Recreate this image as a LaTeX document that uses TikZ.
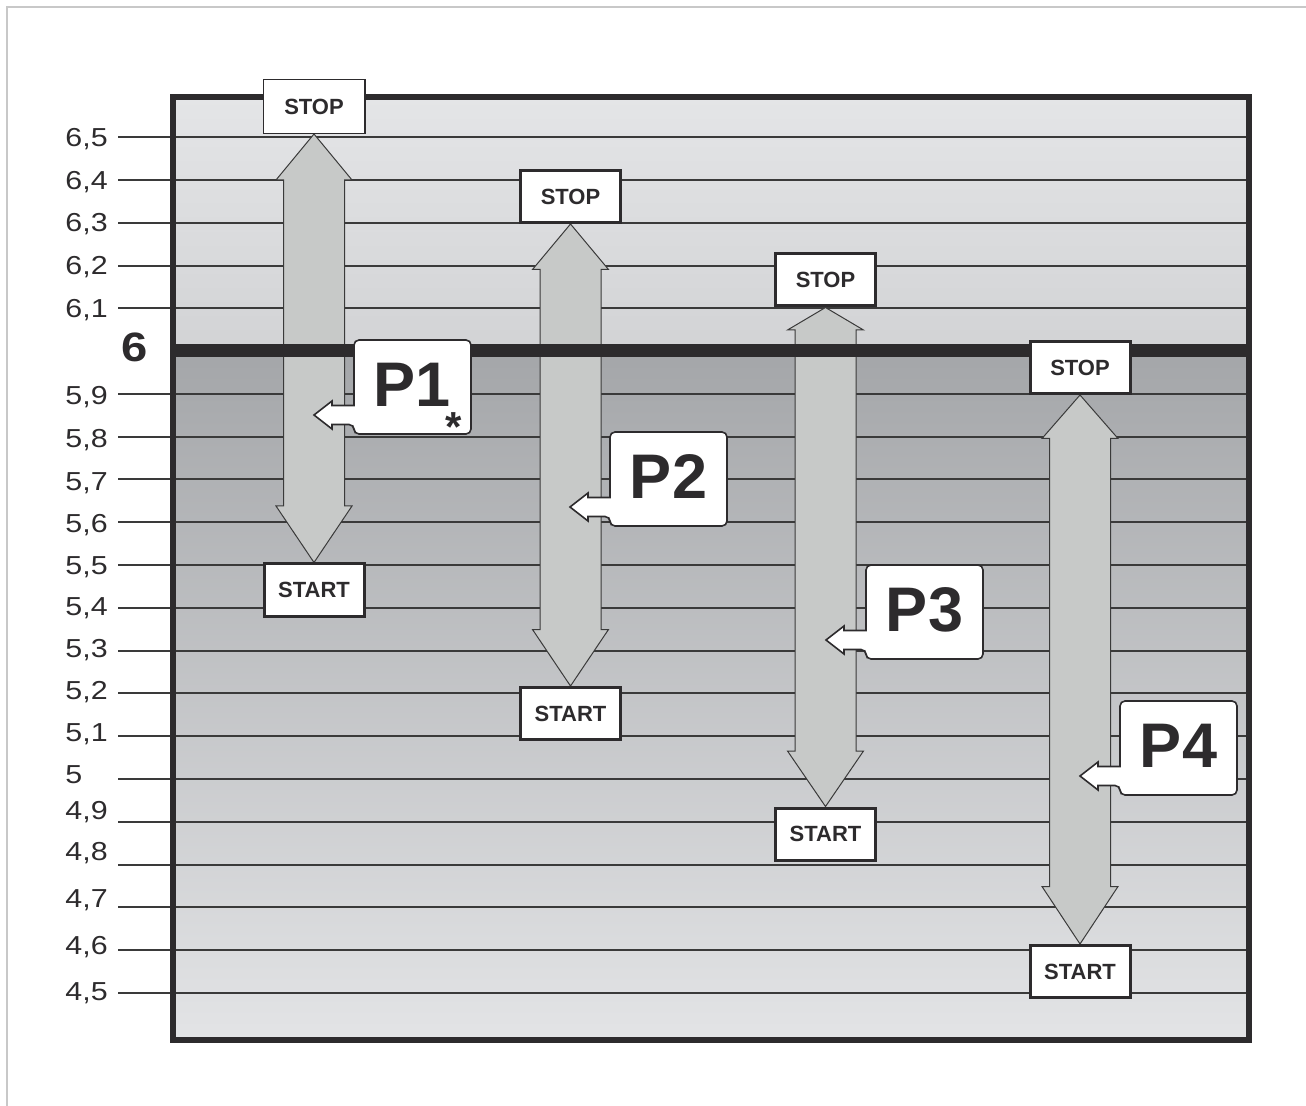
\documentclass[tikz,border=0pt]{standalone}
\usepackage{fontspec}
\setmainfont{Liberation Sans}
\usepackage{graphicx}
\usepackage{tikz}
\usetikzlibrary{calc}

\definecolor{inkdark}{HTML}{2D2B2D}
\definecolor{linegray}{HTML}{3A3A3A}
\definecolor{arrowgray}{HTML}{C7C9C8}
\definecolor{uptop}{HTML}{E4E5E7}
\definecolor{upbot}{HTML}{D2D3D5}
\definecolor{lowtop}{HTML}{A4A6A9}
\definecolor{lowbot}{HTML}{E3E4E6}
\definecolor{edgegray}{HTML}{C8C8C8}

\pgfdeclarelayer{back}
\pgfdeclarelayer{mid}
\pgfsetlayers{back,mid,main}

\tikzset{
  gridline/.style={line width=0.65pt, color=linegray},
  vlabel/.style={anchor=west, inner sep=0pt, text=inkdark, font=\fontsize{13}{14}\selectfont},
  stopbox/.style={draw=inkdark, fill=white, line width=1.5pt, minimum width=50pt, minimum height=26pt, inner sep=0pt, text=inkdark, font=\fontsize{11}{12}\selectfont\bfseries},
  arrowbody/.style={fill=arrowgray, draw=linegray, line width=0.5pt},
  callbox/.style={fill=white, draw=inkdark, line width=0.8pt},
  ptext/.style={inner sep=0pt, text=inkdark, font=\fontsize{31.5}{32}\selectfont\bfseries},
  startext/.style={anchor=north, inner sep=0pt, text=inkdark, font=\fontsize{21}{22}\selectfont\bfseries}
}

%% double block arrow between a STOP box and a START box
\newcommand{\bigarrow}[4]{%
  \draw[arrowbody] (#1.south) -- ++(38,#3) -- ++(-7.5,0)
    -- ($(#2.north)+(30.5,-#4)$) -- ++(7.5,0) -- (#2.north)
    -- ++(-38,-#4) -- ++(7.5,0) -- ($(#1.south)+(-30.5,#3)$)
    -- ++(-7.5,0) -- cycle;}

%% rounded label box with a small pointer on its left side
\newcommand{\callout}[1]{%
  \draw[callbox, shift={(#1)}] (-58.5,18.5) [rounded corners=2.5pt]
    -- (-58.5,-47) -- (58.5,-47) -- (58.5,47) -- (-58.5,47) -- (-58.5,37.5)
    [sharp corners] -- (-80.5,37.5) -- (-80.5,42) -- (-98.5,28)
    -- (-80.5,14) -- (-80.5,18.5) -- cycle;}

\begin{document}
\begin{tikzpicture}[x=0.5pt,y=-0.5pt]
    \useasboundingbox (0,0) rectangle (1306,1106);
    \begin{pgfonlayer}{back}
    %%outer edge
    \draw[edgegray, line width=1pt] (7,1106) -- (7,7) -- (1306,7);
    %%gray fields
    \shade[top color=uptop, bottom color=upbot] (173,97) rectangle (1249,351);
    \shade[top color=lowtop, bottom color=lowbot] (173,351) rectangle (1249,1040);
    %%scale
    \foreach \ly/\ty/\t [count=\i] in {137/139/{6,5}, 180/182/{6,4}, 223/224/{6,3},
        266/267/{6,2}, 308/310/{6,1}, 394/397/{5,9}, 437/440/{5,8}, 479/483/{5,7},
        522/525/{5,6}, 565/567/{5,5}, 608/608/{5,4}, 651/650/{5,3}, 693/692/{5,2},
        736/734/{5,1}, 779/775/{5}, 822/812/{4,9}, 865/853/{4,8}, 907/900/{4,7},
        950/947/{4,6}, 993/993/{4,5}}{
        \draw[gridline] (118,\ly) -- (1246,\ly);
        \node[vlabel] (lab\i) at (65,\ty) {\scalebox{1.17}[1]{\t}};
    }
    \node[anchor=east, inner sep=0pt, text=inkdark, font=\fontsize{20.5}{21}\selectfont\bfseries] (six) at (148,347) {\scalebox{1.15}[1]{6}};
    \end{pgfonlayer}
    %%STOP and START boxes
    \node[stopbox, line width=0.6pt, minimum width=50.9pt, minimum height=26.9pt] (stop1) at (314,106.5) {STOP};
    \node[stopbox] (start1) at (314,590) {START};
    \node[stopbox] (stop2) at (570.5,196.5) {STOP};
    \node[stopbox] (start2) at (570.5,713.5) {START};
    \node[stopbox] (stop3) at (825.5,280) {STOP};
    \node[stopbox] (start3) at (825.5,834) {START};
    \node[stopbox] (stop4) at (1080,367.5) {STOP};
    \node[stopbox] (start4) at (1080,971.5) {START};
    %%P labels
    \coordinate (c1) at (412.5,387);
    \coordinate (c2) at (668.5,479);
    \coordinate (c3) at (924.5,612);
    \coordinate (c4) at (1178.5,748);
    \callout{c1} \node[ptext] (p1) at ($(c1)+(0,-2)$) {P1};
    \callout{c2} \node[ptext] (p2) at ($(c2)+(0,-2)$) {P2};
    \callout{c3} \node[ptext] (p3) at ($(c3)+(0,-2)$) {P3};
    \callout{c4} \node[ptext] (p4) at ($(c4)+(0,-2)$) {P4};
    \node[startext] (star1) at (454,412) {*};
    \begin{pgfonlayer}{mid}
    %%arrows
    \bigarrow{stop1}{start1}{46}{56.5}
    \bigarrow{stop2}{start2}{45.5}{56.5}
    \bigarrow{stop3}{start3}{22.5}{55.5}
    \bigarrow{stop4}{start4}{43.5}{57.5}
    %%line 6 and frame
    \draw[inkdark, line width=6.5pt] (170,351) -- (1249,351);
    \draw[inkdark, line width=3pt] (173,97) rectangle (1249,1040);
    \end{pgfonlayer}
\end{tikzpicture}
\end{document}
